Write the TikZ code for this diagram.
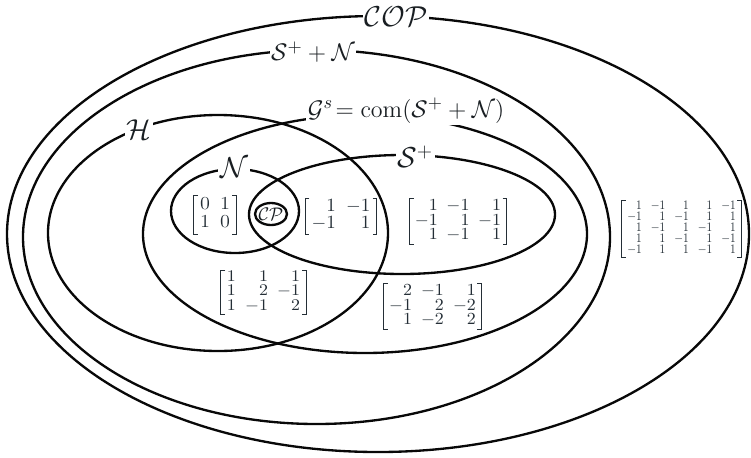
\documentclass[tikz,border=0pt]{standalone}
\usepackage{amsmath}
\usepackage{graphicx}
\definecolor{matc}{RGB}{36,46,54}
\definecolor{labc}{RGB}{25,30,34}
\definecolor{linec}{RGB}{8,8,8}
% width, height, fontsize, colsep, stretch, cols, body
\newcommand{\mtx}[7]{\resizebox*{#1}{#2}{\fontsize{#3}{#3}\selectfont\setlength{\arraycolsep}{#4}\renewcommand{\arraystretch}{#5}$\begin{array}{#6}#7\end{array}$}}
\newcommand{\brackets}[1]{%
  \draw[brk] ([xshift=2.6pt]#1.north west) -- (#1.north west) -- (#1.south west) -- ++(2.6pt,0);
  \draw[brk] ([xshift=-2.6pt]#1.north east) -- (#1.north east) -- (#1.south east) -- ++(-2.6pt,0);}
\begin{document}
\begin{tikzpicture}[x=0.6pt,y=-0.6pt,
  setline/.style={line width=1.4pt, draw=linec},
  lab/.style={fill=white, inner sep=1pt, text=labc, font=\fontsize{16.5}{20}\selectfont},
  matn/.style={inner xsep=0.8pt, inner ysep=0.6pt, outer sep=0pt, text=matc},
  brk/.style={line width=0.6pt, draw=matc, line cap=butt}]
\useasboundingbox (0,0) rectangle (751,457);
% centres
\coordinate (cCOP) at (378,234);
\coordinate (cSN) at (316.5,237);
\coordinate (cH) at (218,233);
\coordinate (cG) at (365,234);
\coordinate (cS) at (402,214.5);
\coordinate (cN) at (235,211);
\coordinate (cCP) at (271,214);
% sets
\draw[setline] (cCOP) ellipse [x radius=371, y radius=218];
\draw[setline] (cSN) ellipse [x radius=293.5, y radius=187];
\draw[setline] (cH) ellipse [x radius=170, y radius=118];
\draw[setline] (cG) ellipse [x radius=222, y radius=119];
\draw[setline] (cS) ellipse [x radius=153, y radius=59.5];
\draw[setline] (cN) ellipse [x radius=64, y radius=42];
\draw[setline] (cCP) ellipse [x radius=16, y radius=11];
% labels
\node[lab] (lCOP) at (396,17) {$\mathcal{COP}$};
\node[lab, font=\fontsize{15.5}{19}\selectfont] (lSN) at (313,52) {$\mathcal{S}^{+}+\mathcal{N}$};
\node[lab, font=\fontsize{15.5}{19}\selectfont] (lG) at (406,111) {$\mathcal{G}^{s}\!=\mathrm{com}(\mathcal{S}^{+}+\mathcal{N})$};
\node[lab] (lH) at (139,130) {$\mathcal{H}$};
\node[lab] (lS) at (415,157) {$\mathcal{S}^{+}$};
\node[lab] (lN) at (234,168) {$\mathcal{N}$};
\node[inner sep=0pt, text=labc, font=\fontsize{11}{13}\selectfont] (lCP) at (271,214) {$\mathcal{CP}$};
% matrices
\node[matn] (m1) at (215,215) {\mtx{24pt}{22pt}{12}{3pt}{1.0}{rr}{0 & 1\\ 1 & 0}};
\node[matn] (m2) at (341,216.5) {\mtx{41.5pt}{20.5pt}{11}{3pt}{0.9}{rr}{1 & -1\\ -1 & 1}};
\node[matn] (m3) at (458,221.5) {\mtx{57pt}{26.5pt}{11}{2.6pt}{0.75}{rrr}{1 & -1 & 1\\ -1 & 1 & -1\\ 1 & -1 & 1}};
\node[matn] (m4) at (263.5,292.5) {\mtx{49.5pt}{25.5pt}{11}{2.8pt}{0.75}{rrr}{1 & 1 & 1\\ 1 & 2 & -1\\ 1 & -1 & 2}};
\node[matn] (m5) at (432.5,306.5) {\mtx{57.5pt}{26.5pt}{11}{2.8pt}{0.75}{rrr}{2 & -1 & 1\\ -1 & 2 & -2\\ 1 & -2 & 2}};
\node[matn] (m6) at (681.5,229) {\mtx{70.5pt}{33pt}{10}{4pt}{0.68}{rrrrr}{1 & -1 & 1 & 1 & -1\\ -1 & 1 & -1 & 1 & 1\\ 1 & -1 & 1 & -1 & 1\\ 1 & 1 & -1 & 1 & -1\\ -1 & 1 & 1 & -1 & 1}};
\brackets{m1}
\brackets{m2}
\brackets{m3}
\brackets{m4}
\brackets{m5}
\brackets{m6}
\end{tikzpicture}
\end{document}
